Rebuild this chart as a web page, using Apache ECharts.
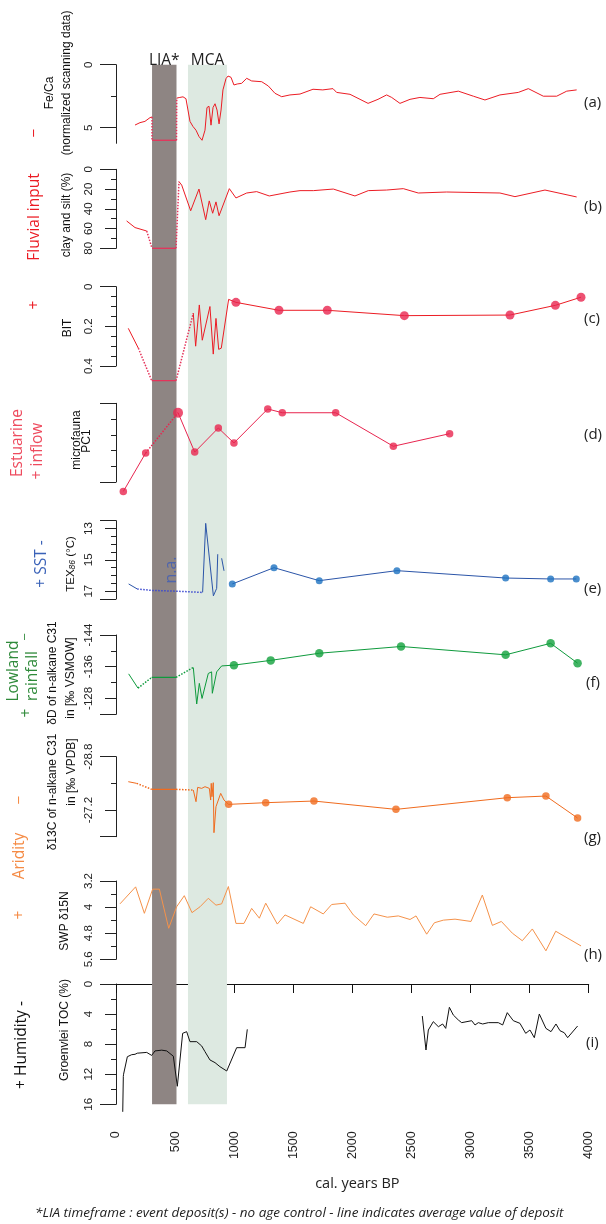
<!DOCTYPE html>
<html><head><meta charset="utf-8">
<script src="https://cdn.jsdelivr.net/npm/echarts@6/dist/echarts.min.js"></script>
<style>html,body{margin:0;padding:0;background:#fff}#c{width:606px;height:1224px}</style>
</head><body><div id="c"></div>
<script>
// ---------------- DATA ----------------
const xTickLabels = [0, 500, 1000, 1500, 2000, 2500, 3000, 3500, 4000];
const bandNames = ['LIA*', 'MCA'];
const bandStarts = [305, 609];
const bandEnds = [512, 939];

// y-axis ticks / tick labels
const feCaTicks = [0, 2.5, 5];                 const feCaTickLabels = [0, 5];
const claySiltTicks = [0,10,20,30,40,50,60,70,80]; const claySiltTickLabels = [0,20,40,60,80];
const bitTicks = [0,0.05,0.1,0.15,0.2,0.25,0.3,0.35,0.4]; const bitTickLabels = [0,0.2,0.4];
const pcTicks = [0,1,2,3,4,5];                 const pcTickLabels = [];
const texTicks = [12.5,13,13.5,14,14.5,15,15.5,16,16.5,17,17.5]; const texTickLabels = [13,15,17];
const dDTicks = [-144,-140,-136,-132,-128,-124]; const dDTickLabels = [-144,-136,-128];
const d13CTicks = [-28.8,-28,-27.2,-26.4];      const d13CTickLabels = [-28.8,-27.2];
const n15Ticks = [3.2,3.6,4,4.4,4.8,5.2,5.6];   const n15TickLabels = [3.2,4,4.8,5.6];
const tocTicks = [0,2,4,6,8,10,12,14,16];       const tocTickLabels = [0,4,8,12,16];

// (a) Fe/Ca
const feCaPre = [[161,4.79],[203,4.6],[245,4.5],[288,4.2],[305,4.15]];
const feCaGapIn = [[305,4.15],[305,6.0]];
const feCaLIA = [[305,6.0],[512,6.0]];
const feCaGapOut = [[512,6.0],[514,2.65]];
const feCaPost = [[514,2.65],[540,2.6],[567,2.55],[592,2.7],[626,4.5],[651,4.9],[677,5.2],[702,5.7],[728,6.0],[753,5.2],[770,3.4],[787,3.3],[804,4.8],[821,3.4],[838,3.1],[855,3.6],[872,4.7],[889,3.6],[905,2.0],[931,1.1],[948,0.9],[973,1.0],[998,1.61],[1026,1.53],[1063,1.48],[1106,1.08],[1148,1.29],[1233,1.35],[1289,1.69],[1345,2.27],[1402,2.54],[1472,2.4],[1557,2.33],[1667,1.95],[1750,2.0],[1836,1.9],[1867,2.2],[1980,2.35],[2065,2.75],[2133,3.07],[2217,2.75],[2290,2.4],[2333,2.6],[2403,3.07],[2488,2.75],[2572,2.6],[2685,2.7],[2742,2.35],[2897,2.1],[3024,2.5],[3122,2.8],[3249,2.4],[3404,2.2],[3489,1.9],[3616,2.5],[3729,2.5],[3814,2.1],[3898,2.0]];

// (b) clay and silt
const claySiltPre = [[90,52.3],[161,59],[260,62.5]];
const claySiltGapIn = [[260,62.5],[305,80]];
const claySiltLIA = [[305,80],[508,80]];
const claySiltGapOut = [[508,80],[533,12.5]];
const claySiltPost = [[533,12.5],[556,16],[632,42],[702,20],[759,51],[789,32],[818,44.5],[846,33],[872,47],[959,19.6],[1015,29],[1106,24],[1190,22.6],[1297,27],[1472,23],[1557,21.6],[1670,21.6],[1839,20],[2022,27],[2135,21.6],[2290,21],[2431,19.6],[2558,24],[2798,23],[3249,24],[3376,27.7],[3630,21],[3898,28]];

// (c) BIT
const bitPre = [[104,0.21],[189,0.31]];
const bitGapIn = [[189,0.31],[302,0.474]];
const bitLIA = [[302,0.474],[508,0.474]];
const bitGapOut = [[508,0.474],[654,0.134]];
const bitHighRes = [[654,0.134],[674,0.30],[705,0.092],[730,0.27],[795,0.10],[823,0.34],[846,0.16],[869,0.316],[891,0.31],[953,0.064]];
const bitMarkers = [[1015,0.079],[1379,0.119],[1788,0.119],[2440,0.146],[3334,0.143],[3718,0.094],[3935,0.053]];

// (d) microfauna PC1 (axis units, top = 0)
const pcPre = [[62,5.6],[251,3.16]];
const pcGap = [[251,3.16],[525,0.6]];
const pcPost = [[525,0.6],[666,3.1],[866,1.57],[998,2.52],[1284,0.36],[1407,0.6],[1859,0.6],[2347,2.73],[2823,1.93]];

// (e) TEX86
const texPre = [[107,16.54],[180,16.86]];
const texGap = [[180,16.86],[302,16.95],[508,17.0],[733,17.08]];
const texHighResA = [[733,17.08],[759,12.67],[824,17.3],[852,16.82],[861,14.64]];
const texHighResB = [[894,14.9],[914,15.7]];
const texMarkers = [[984,16.54],[1337,15.5],[1720,16.33],[2377,15.69],[3297,16.16],[3678,16.22],[3895,16.22]];

// (f) dD n-alkane C31
const dDPre = [[107,-134.2],[186,-130.6]];
const dDGapIn = [[186,-130.6],[302,-133.3]];
const dDLIA = [[302,-133.3],[508,-133.3]];
const dDGapOut = [[508,-133.3],[654,-135.8]];
const dDHighRes = [[654,-135.8],[683,-126.6],[705,-131.8],[728,-128],[781,-134.3],[809,-134.7],[815,-129.3],[852,-134.7],[894,-136.2]];
const dDMarkers = [[998,-136.4],[1309,-137.6],[1720,-139.4],[2412,-141.1],[3297,-139],[3678,-141.9],[3906,-136.9]];

// (g) d13C n-alkane C31
const d13CPre = [[104,-28.05],[175,-28.0]];
const d13CGapIn = [[175,-28.0],[302,-27.82]];
const d13CLIA = [[302,-27.82],[508,-27.82]];
const d13CGapOut = [[508,-27.82],[654,-27.8]];
const d13CHighRes = [[654,-27.8],[677,-27.45],[691,-27.88],[725,-27.85],[753,-27.9],[790,-27.85],[801,-27.5],[806,-28.0],[812,-27.6],[823,-28.02],[829,-26.52],[846,-27.3],[886,-27.7],[914,-27.5]];
const d13CMarkers = [[953,-27.37],[1267,-27.42],[1675,-27.47],[2369,-27.22],[3311,-27.57],[3638,-27.62],[3906,-26.96]];

// (h) SWP d15N
const swpN15 = [[34,3.9],[166,3.38],[240,4.19],[310,3.45],[367,3.45],[446,4.65],[513,3.99],[578,3.65],[643,4.17],[711,3.99],[781,3.73],[846,3.94],[894,3.9],[951,3.37],[1015,4.5],[1083,4.5],[1148,4.04],[1213,4.34],[1267,3.88],[1365,4.52],[1430,4.24],[1585,4.5],[1647,3.99],[1754,4.21],[1825,3.92],[1938,3.88],[2008,4.24],[2113,4.57],[2183,4.21],[2296,4.31],[2389,4.27],[2488,4.38],[2539,4.27],[2629,4.83],[2694,4.48],[2770,4.4],[2869,4.37],[3004,4.44],[3100,3.63],[3185,4.56],[3261,4.44],[3354,4.8],[3438,5.03],[3523,4.67],[3638,5.34],[3721,4.74],[3935,5.19]];

// (i) Groenvlei TOC
const tocA = [[57,17.0],[62,12.3],[64,12.0],[96,9.67],[133,9.4],[161,9.35],[180,9.2],[260,9.1],[302,9.5],[330,8.9],[387,8.8],[429,8.9],[485,9.6],[519,13.6],[564,6.56],[598,6.34],[626,7.67],[683,7.67],[725,8.24],[753,9.0],[795,10.1],[838,10.46],[880,11.0],[937,11.57],[1021,8.47],[1092,8.47],[1111,6.03]];
const tocB = [[2592,4.26],[2623,8.78],[2643,6.12],[2685,5.01],[2728,5.68],[2764,5.32],[2790,5.9],[2821,3.1],[2854,4.12],[2897,4.79],[2925,5.14],[3010,4.88],[3038,5.45],[3066,5.14],[3103,5.32],[3151,5.14],[3235,5.14],[3272,5.45],[3311,3.81],[3362,4.88],[3418,5.23],[3467,6.56],[3503,6.12],[3540,7.14],[3582,3.99],[3638,5.9],[3681,6.34],[3723,5.32],[3757,6.21],[3793,6.48],[3822,7.14],[3906,5.59]];

// ---------------- LAYOUT ----------------
const GL = 116, GW = 472.7;
const AX = "'Liberation Sans', Arial, sans-serif";
const MY = "'Open Sans', 'Noto Sans', sans-serif";
const panels = [
  {top:64.7,  bottom:143.3, min:0,     max:6.24, ticks:feCaTicks,     labels:feCaTickLabels,     long:[0,5]},
  {top:169.3, bottom:248.3, min:0,     max:80,   ticks:claySiltTicks, labels:claySiltTickLabels, long:[0,80]},
  {top:286.7, bottom:366,   min:0,     max:0.4,  ticks:bitTicks,      labels:bitTickLabels,      long:[0,0.4]},
  {top:403.3, bottom:482,   min:0,     max:5,    ticks:pcTicks,       labels:pcTickLabels,       long:[0,5]},
  {top:520.7, bottom:599,   min:12.5,  max:17.5, ticks:texTicks,      labels:texTickLabels,      long:[12.5,17.5]},
  {top:635,   bottom:714.3, min:-144,  max:-124, ticks:dDTicks,       labels:dDTickLabels,       long:[-144,-124]},
  {top:756.7, bottom:836.7, min:-28.8, max:-26.4,ticks:d13CTicks,     labels:d13CTickLabels,     long:[-28.8,-26.4]},
  {top:881,   bottom:959.3, min:3.2,   max:5.6,  ticks:n15Ticks,      labels:n15TickLabels,      long:[3.2,5.6]},
  {top:984,   bottom:1104.3,min:0,     max:16,   ticks:tocTicks,      labels:tocTickLabels,      long:[0,16]}
];

const grids = [{left:GL, width:GW, top:64.7, height:1104.3-64.7}];
const xAxes = [{gridIndex:0, type:'value', min:0, max:4000, show:false}];
const yAxes = [{gridIndex:0, type:'value', min:0, max:1, show:false}];
panels.forEach((p, i) => {
  const g = i + 1;
  grids.push({left:GL, width:GW, top:p.top, height:p.bottom - p.top});
  const isLast = i === panels.length - 1;
  xAxes.push(isLast ? {
    gridIndex:g, type:'value', min:0, max:4000, interval:500, position:'bottom', offset:14,
    axisLine:{show:true, lineStyle:{color:'#111', width:1}},
    axisTick:{show:true, length:9, lineStyle:{color:'#111'}, customValues:xTickLabels},
    axisLabel:{show:true, rotate:90, margin:13, color:'#222', fontSize:12.5, fontFamily:AX,
      customValues:xTickLabels, formatter:(v) => String(v)},
    splitLine:{show:false},
    name:'cal. years BP', nameLocation:'middle', nameGap:58,
    nameTextStyle:{fontSize:14.5, fontFamily:MY, color:'#222', padding:[0,0,0,10]}
  } : {gridIndex:g, type:'value', min:0, max:4000, show:false});
  const base = {gridIndex:g, type:'value', inverse:true, min:p.min, max:p.max, position:'left', offset:2, splitLine:{show:false}};
  yAxes.push(Object.assign({}, base, {
    axisLine:{show:true, lineStyle:{color:'#222', width:1}},
    axisTick:{show:true, length:5, lineStyle:{color:'#222'}, customValues:p.ticks},
    axisLabel:{show:p.labels.length > 0, rotate:90, margin:19, color:'#222', fontSize:11.5, fontFamily:AX,
      customValues:p.labels, formatter:(v) => String(v)}
  }));
  yAxes.push(Object.assign({}, base, {
    axisLine:{show:false}, axisLabel:{show:false},
    axisTick:{show:p.labels.length > 0, length:9, lineStyle:{color:'#222'}, customValues:p.labels}
  }));
  yAxes.push(Object.assign({}, base, {
    axisLine:{show:false}, axisLabel:{show:false},
    axisTick:{show:true, length:14, lineStyle:{color:'#222'}, customValues:p.long}
  }));
});

function line(pi, data, color, type, width) {
  return {type:'line', xAxisIndex:pi + 1, yAxisIndex:1 + 3 * pi, data:data, symbol:'none', showSymbol:false,
    clip:false, silent:true, animation:false, z:3,
    lineStyle:{color:color, width:width || 1, type:type || 'solid'}};
}
function dots(pi, data, color, size) {
  return {type:'scatter', xAxisIndex:pi + 1, yAxisIndex:1 + 3 * pi, data:data, symbol:'circle', symbolSize:size,
    clip:false, silent:true, animation:false, z:4, itemStyle:{color:color}};
}

const RED = '#ec1c24', LIAR = '#e5335a', CRIM = '#e8254f';
const BLUE = '#2b55a8', BLUEM = '#1d72c0', BLUED = '#3a48d0';
const GRN = '#0e9a3c', ORG = '#f06b1e', ORGL = '#f5924a';

const series = [
  {type:'line', xAxisIndex:0, yAxisIndex:0, data:[], silent:true, z:0,
    markArea:{silent:true, data: bandNames.map((n, k) => [
      {name:n, xAxis:bandStarts[k], itemStyle:{color: k === 0 ? '#8e8583' : '#dde9e1', opacity:1},
       label:{show:true, position:'top', distance:0, offset:[0,4], color:'#222', fontSize:15.5, fontFamily:MY}},
      {xAxis:bandEnds[k]}])}},
  // a
  line(0, feCaPre, RED), line(0, feCaGapIn, LIAR, 'dotted', 1.5), line(0, feCaLIA, LIAR, 'solid', 1.3),
  line(0, feCaGapOut, LIAR, 'dotted', 1.5), line(0, feCaPost, RED),
  // b
  line(1, claySiltPre, RED), line(1, claySiltGapIn, LIAR, 'dotted', 1.5), line(1, claySiltLIA, LIAR, 'solid', 1.3),
  line(1, claySiltGapOut, LIAR, 'dotted', 1.5), line(1, claySiltPost, RED),
  // c
  line(2, bitPre, RED), line(2, bitGapIn, LIAR, 'dotted', 1.5), line(2, bitLIA, LIAR, 'solid', 1.3),
  line(2, bitGapOut, LIAR, 'dotted', 1.5), line(2, bitHighRes.concat(bitMarkers), RED), dots(2, bitMarkers, CRIM, 9),
  // d
  line(3, pcPre, CRIM), line(3, pcGap, CRIM, 'dotted', 1.5), line(3, pcPost, CRIM),
  dots(3, pcPre, CRIM, 7.5), dots(3, pcPost, CRIM, (v, prm) => prm.dataIndex === 0 ? 10 : 7.5),
  // e
  line(4, texPre, BLUE), line(4, texGap, BLUED, 'dotted', 1.5), line(4, texHighResA, BLUE), line(4, texHighResB, BLUE),
  line(4, texMarkers, BLUE), dots(4, texMarkers, BLUEM, 7),
  // f
  line(5, dDPre, GRN), line(5, dDGapIn, GRN, 'dotted', 1.5), line(5, dDLIA, GRN, 'solid', 1.2),
  line(5, dDGapOut, GRN, 'dotted', 1.5), line(5, dDHighRes.concat(dDMarkers), GRN), dots(5, dDMarkers, '#12a03c', 8.5),
  // g
  line(6, d13CPre, ORG), line(6, d13CGapIn, ORG, 'dotted', 1.5), line(6, d13CLIA, ORG, 'solid', 1.2),
  line(6, d13CGapOut, ORG, 'dotted', 1.5), line(6, d13CHighRes.concat(d13CMarkers), ORG), dots(6, d13CMarkers, ORG, 7.5),
  // h
  line(7, swpN15, ORGL),
  // i
  line(8, tocA, '#111'), line(8, tocB, '#111')
];

function vt(text, x, y, color, size, family, extra) {
  return {type:'text', x:x, y:y, rotation:Math.PI / 2, silent:true, z:10,
    style:Object.assign({text:text, x:0, y:0, align:'center', verticalAlign:'middle', fill:color,
      fontSize:size, fontFamily:family}, extra || {})};
}
function ht(text, x, y, color, size, family, extra) {
  return {type:'text', x:x, y:y, silent:true, z:10,
    style:Object.assign({text:text, x:0, y:0, align:'left', verticalAlign:'middle', fill:color,
      fontSize:size, fontFamily:family}, extra || {})};
}

const graphics = [
  // axis titles
  vt('Fe/Ca', 50, 93, '#111', 12, AX),
  vt('(normalized scanning data)', 67, 83, '#111', 12, AX),
  vt('clay and silt (%)', 67, 215, '#111', 12, AX),
  vt('BIT', 68, 328, '#111', 12, AX),
  vt('microfauna', 76.5, 440, '#111', 12, AX),
  vt('PC1', 87, 441, '#111', 12, AX),
  vt('TEX{s|86} (°C)', 71, 564, '#111', 11.5, AX, {rich:{s:{fontSize:8.5, fontStyle:'italic', fontFamily:AX, fill:'#111', padding:[4,0,0,0]}}}),
  vt('δD of n-alkane C31', 53, 673, '#111', 12, AX),
  vt('in [‰ VSMOW]', 71, 678, '#111', 12, AX),
  vt('δ13C of n-alkane C31', 53, 792, '#111', 12, AX),
  vt('in [‰ VPDB]', 72, 772, '#111', 12, AX),
  vt('SWP δ15N', 65, 921, '#111', 12, AX),
  vt('Groenvlei TOC (%)', 65, 1030, '#111', 12, AX),
  // process labels
  vt('−', 35, 133, RED, 15.5, MY),
  vt('Fluvial input', 35, 217, RED, 15.5, MY),
  vt('+', 35, 305, RED, 15.5, MY),
  vt('Estuarine', 18, 443, '#ee4b5e', 15.5, MY),
  vt('+ inflow', 38, 451, '#ee4b5e', 15.5, MY),
  vt('+ SST -', 42, 564, '#3a62b8', 15.5, MY),
  vt('Lowland', 14, 671, '#2f8a3a', 15.5, MY),
  vt('rainfall', 33, 676, '#2f8a3a', 15.5, MY),
  vt('+', 27, 713, '#2f8a3a', 15.5, MY),
  vt('−', 25, 637, '#2f8a3a', 13, MY),
  vt('−', 20, 800, '#f58b45', 15.5, MY),
  vt('Aridity', 20, 856, '#f58b45', 15.5, MY),
  vt('+', 20, 915, '#f58b45', 15.5, MY),
  vt('+ Humidity -', 22, 1045, '#111', 15.5, MY),
  vt('n.a.', 171.5, 570, 'rgba(62,92,182,0.8)', 16, MY),
  // panel letters
  ht('(a)', 584, 103, '#222', 15, MY), ht('(b)', 584, 207, '#222', 15, MY), ht('(c)', 584, 319, '#222', 15, MY),
  ht('(d)', 584, 435, '#222', 15, MY), ht('(e)', 584, 589, '#222', 15, MY), ht('(f)', 586, 683, '#222', 15, MY),
  ht('(g)', 584, 838, '#222', 15, MY), ht('(h)', 584, 955, '#222', 15, MY), ht('(i)', 586, 1043, '#222', 15, MY),
  // footnote
  ht('*LIA timeframe : event deposit(s) - no age control - line indicates average value of deposit', 35, 1213, '#222', 13.5, MY, {fontStyle:'italic'})
];

const chart = echarts.init(document.getElementById('c'), null, {renderer:'canvas', width:606, height:1224});
chart.setOption({
  animation:false,
  backgroundColor:'#fff',
  textStyle:{fontFamily:AX},
  grid:grids, xAxis:xAxes, yAxis:yAxes, series:series, graphic:graphics
});
</script></body></html>
